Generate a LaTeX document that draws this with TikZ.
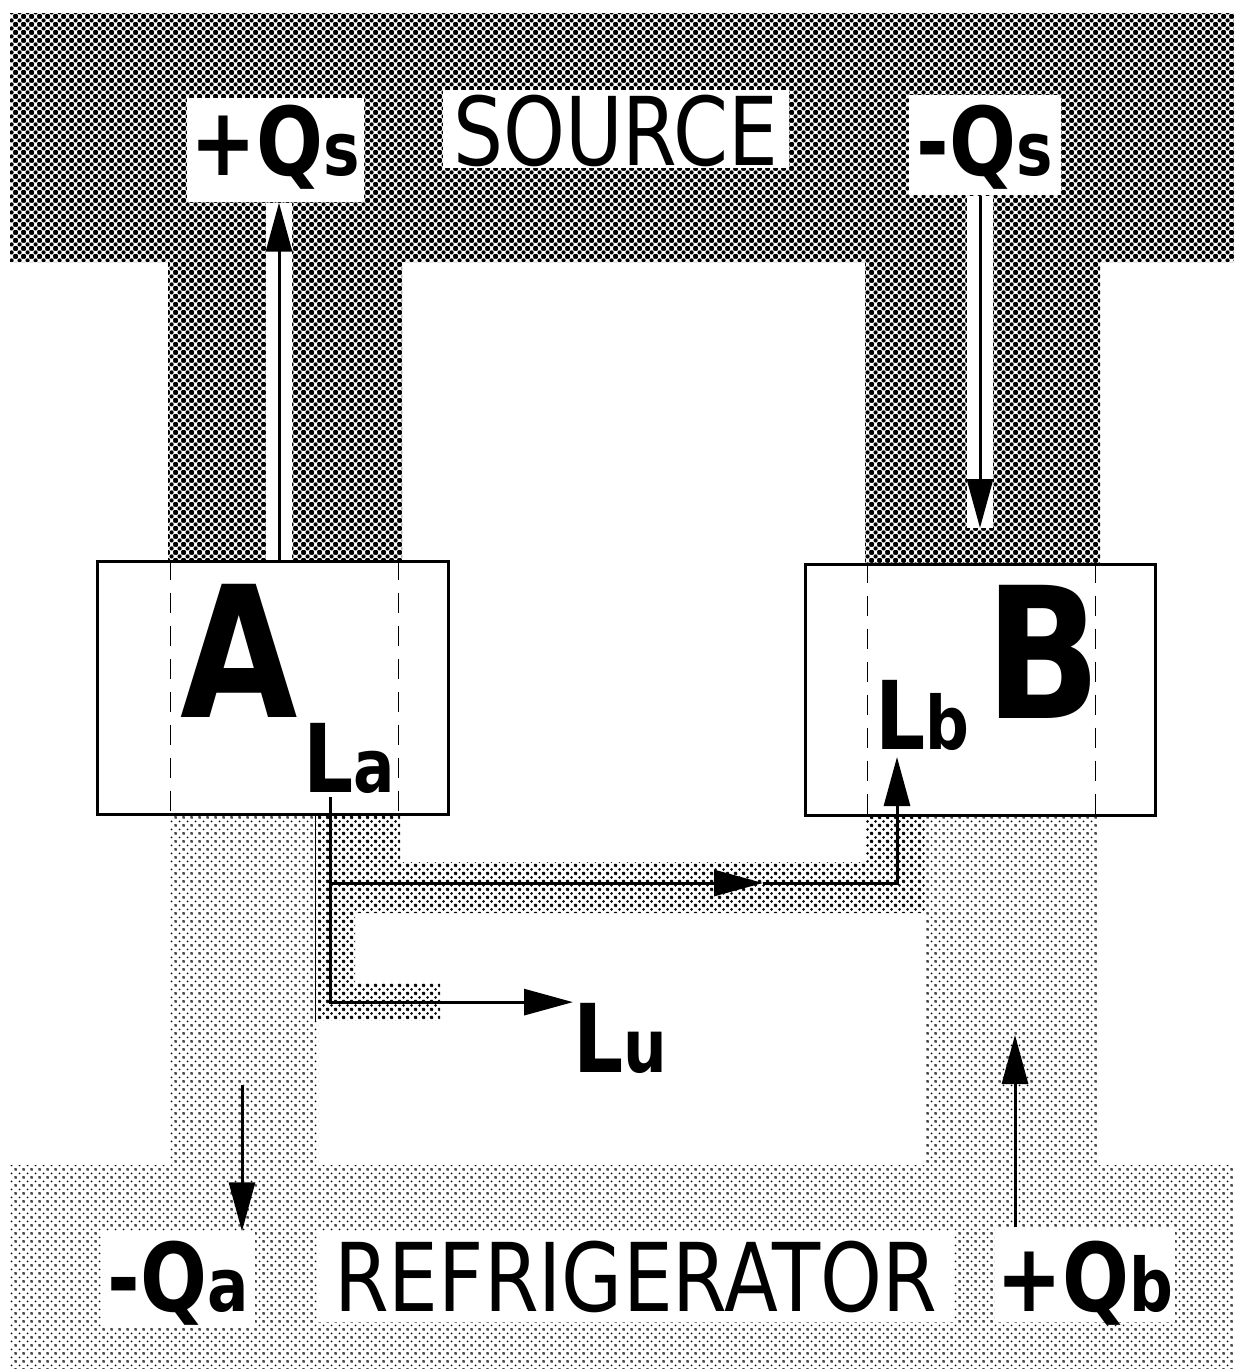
\documentclass[tikz,border=0pt]{standalone}
\usepackage{fontspec}
\setmainfont{DejaVu Sans}[FakeStretch=0.83]
\usetikzlibrary{arrows.meta,positioning,patterns}
\newcommand\labsize{\fontsize{27}{30}\selectfont}
\newcommand\bigsize{\fontsize{52}{56}\selectfont}
\newcommand\lsub[1]{{\fontsize{21}{23}\selectfont #1}}
% halftone screens
\pgfdeclarepatternformonly{sourcedots}{\pgfqpoint{0pt}{0pt}}{\pgfqpoint{2.28pt}{2.28pt}}{\pgfqpoint{2.28pt}{2.28pt}}{%
  \pgfpathcircle{\pgfqpoint{0pt}{0pt}}{0.68pt}\pgfpathcircle{\pgfqpoint{2.28pt}{0pt}}{0.68pt}%
  \pgfpathcircle{\pgfqpoint{0pt}{2.28pt}}{0.68pt}\pgfpathcircle{\pgfqpoint{2.28pt}{2.28pt}}{0.68pt}%
  \pgfpathcircle{\pgfqpoint{1.14pt}{1.14pt}}{0.68pt}\pgfusepath{fill}}
\pgfdeclarepatternformonly{workdots}{\pgfqpoint{0pt}{0pt}}{\pgfqpoint{2.28pt}{2.28pt}}{\pgfqpoint{2.28pt}{2.28pt}}{%
  \pgfpathcircle{\pgfqpoint{0pt}{0pt}}{0.45pt}\pgfpathcircle{\pgfqpoint{2.28pt}{0pt}}{0.45pt}%
  \pgfpathcircle{\pgfqpoint{0pt}{2.28pt}}{0.45pt}\pgfpathcircle{\pgfqpoint{2.28pt}{2.28pt}}{0.45pt}%
  \pgfpathcircle{\pgfqpoint{1.14pt}{1.14pt}}{0.45pt}\pgfusepath{fill}}
\pgfdeclarepatternformonly{fridgedots}{\pgfqpoint{0pt}{0pt}}{\pgfqpoint{2.28pt}{2.28pt}}{\pgfqpoint{2.28pt}{2.28pt}}{%
  \pgfpathcircle{\pgfqpoint{0pt}{0pt}}{0.3pt}\pgfpathcircle{\pgfqpoint{2.28pt}{0pt}}{0.3pt}%
  \pgfpathcircle{\pgfqpoint{0pt}{2.28pt}}{0.3pt}\pgfpathcircle{\pgfqpoint{2.28pt}{2.28pt}}{0.3pt}%
  \pgfpathcircle{\pgfqpoint{1.14pt}{1.14pt}}{0.3pt}\pgfusepath{fill}}
\tikzset{
  srcfill/.style={pattern=sourcedots},
  workfill/.style={pattern=workdots},
  fridgefill/.style={pattern=fridgedots},
  tag/.style={fill=white,inner ysep=0pt,font=\labsize\bfseries,anchor=base west},
  banner/.style={fill=white,inner ysep=0pt,font=\labsize,anchor=base west},
  device/.style={draw,line width=.3mm,fill=white,inner sep=0pt},
  letter/.style={inner sep=0pt,anchor=base west},
  flow/.style={line width=.3mm,-{Triangle[length=4.9mm,width=2.6mm]}},
  strip/.style={draw=white,line width=2.6mm},
  guide/.style={line width=.1mm,dash pattern=on 2mm off 1.3mm}}

\begin{document}
\begin{tikzpicture}[x=.1mm,y=-.1mm]
\useasboundingbox (0,0) rectangle (1234,1369);
% reservoirs and channels
\fill[srcfill] (10,13) -| (1234,262) -| (1100,564) -| (865,262) -| (402,561) -| (168,262) -| (10,13) -- cycle;
\fill[fridgefill] (10,1165) rectangle (1234,1369) (170,814) rectangle (318,1165) (925,815) rectangle (1098,1165);
\fill[workfill] (318,814) rectangle (400,913) (318,862) rectangle (925,913) (866,815) rectangle (925,862)
  (318,913) rectangle (355,1020) (355,983) rectangle (440,1020);
% engines
\node[device,minimum width=35.1mm,minimum height=25.3mm] (boxA) at (272.5,687.5) {};
\node[device,minimum width=35mm,minimum height=25.1mm] (boxB) at (980,689.5) {};
\coordinate (dA1) at (170,0); \coordinate (dA2) at (398,0);
\coordinate (dB1) at (867,0); \coordinate (dB2) at (1095,0);
\foreach \d/\b in {dA1/boxA,dA2/boxA,dB1/boxB,dB2/boxB}
  \draw[guide] (\b.north -| \d) -- (\b.south -| \d);
\node[letter,font=\bigsize\bfseries] (letA) at (180,717) {A};
\node[letter,font=\bigsize\bfseries] (letB) at (985,718) {B};
\node[letter,font=\labsize\bfseries] (labLa) at (303,792) {L\lsub{a}};
\node[letter,font=\labsize\bfseries] (labLb) at (875,749) {L\lsub{b}};
\node[letter,font=\labsize\bfseries] (labLu) at (573,1072) {L\lsub{u}};
% labels
\node[banner,inner xsep=1.05mm,text height=7.5mm,text depth=.3mm] (source) at (442,165) {SOURCE};
\node[banner,inner xsep=1.75mm,text height=7.9mm,text depth=1.1mm] (fridge) at (316,1311) {REFRIGERATOR};
\node[tag,inner xsep=.4mm,text height=7.7mm,text depth=2.7mm] (qsplus) at (186,175) {+Q\lsub{s}};
\node[tag,inner xsep=.8mm,text height=8mm,text depth=2mm] (qsminus) at (908,175) {-Q\lsub{s}};
\node[tag,inner xsep=.6mm,text height=7.9mm,text depth=1.6mm] (qaminus) at (101,1311) {-Q\lsub{a}};
\node[tag,inner xsep=.15mm,text height=8.3mm,text depth=1.1mm] (qbplus) at (994,1311) {+Q\lsub{b}};
% heat flows
\coordinate (qsx) at (279,0); \coordinate (qsTip) at (980,528);
\coordinate (qaTop) at (242,1085); \coordinate (qbTip) at (1015,1035);
\draw[strip] (boxA.north -| qsx) -- (qsplus.south -| qsx);
\draw[strip] (qsminus.south -| qsTip) -- (qsTip);
\draw[flow] (boxA.north -| qsx) -- (qsplus.south -| qsx);
\draw[flow] (qsminus.south -| qsTip) -- (qsTip);
\draw[flow] (qaTop) -- (qaminus.north -| qaTop);
\draw[flow] (qbplus.north -| qbTip) -- (qbTip);
% work
\coordinate (laFoot) at (330,797); \coordinate (branch) at (330,883);
\coordinate (midTip) at (763,883); \coordinate (lbTip) at (897,757);
\coordinate (thinx) at (315,0);
\draw[line width=.1mm] (boxA.south -| thinx) -- ++(0,206);
\draw[flow] (laFoot) |- (labLu.north west);
\draw[flow] (branch) -- (midTip);
\draw[flow] (midTip) -| (lbTip);
\end{tikzpicture}
\end{document}
